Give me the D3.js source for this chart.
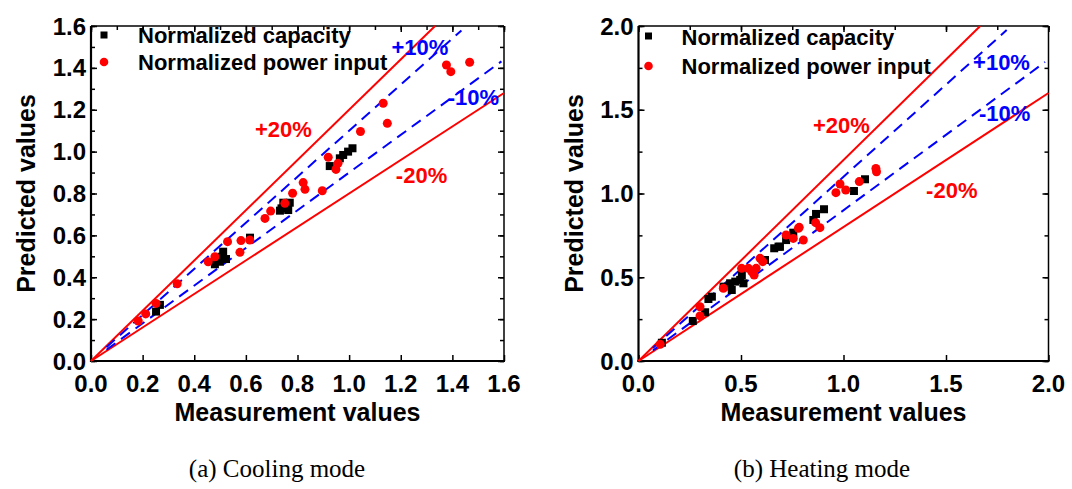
<!DOCTYPE html>
<html>
<head>
<meta charset="utf-8">
<script src="https://cdn.jsdelivr.net/npm/d3@7/dist/d3.min.js"></script>
<style>
  body { margin: 0; background: #fff; }
  svg { display: block; }
  text { font-family: "Liberation Sans", Arial, sans-serif; }
</style>
</head>
<body>
<svg id="chart"></svg>
<script>
var width = 1072,
    height = 489;

// Cooling mode data: [measured, predicted]
var coolingCapacity = [
  [0.252, 0.236], [0.267, 0.268], [0.480, 0.462], [0.499, 0.474], [0.506, 0.498],
  [0.512, 0.522], [0.523, 0.487], [0.616, 0.589], [0.732, 0.718], [0.738, 0.729],
  [0.745, 0.756], [0.764, 0.721], [0.770, 0.756], [0.925, 0.931], [0.964, 0.968],
  [0.977, 0.984], [0.996, 1.000], [1.013, 1.016]
];
var coolingPower = [
  [0.183, 0.191], [0.212, 0.225], [0.252, 0.275], [0.334, 0.369], [0.454, 0.474],
  [0.480, 0.498], [0.529, 0.570], [0.581, 0.575], [0.577, 0.519], [0.615, 0.578],
  [0.674, 0.681], [0.696, 0.716], [0.751, 0.753], [0.781, 0.801], [0.822, 0.852],
  [0.829, 0.820], [0.896, 0.813], [0.919, 0.973], [0.957, 0.944], [0.949, 0.915],
  [1.044, 1.096], [1.132, 1.231], [1.148, 1.135], [1.377, 1.414], [1.394, 1.382],
  [1.467, 1.427]
];

// Heating mode data: [measured, predicted]
var heatingCapacity = [
  [0.114, 0.109], [0.265, 0.239], [0.325, 0.291], [0.341, 0.370], [0.358, 0.384],
  [0.415, 0.444], [0.455, 0.424], [0.447, 0.464], [0.472, 0.474], [0.496, 0.484],
  [0.504, 0.513], [0.512, 0.464], [0.617, 0.603], [0.662, 0.673], [0.683, 0.683],
  [0.690, 0.682], [0.720, 0.722], [0.755, 0.766], [0.853, 0.842], [0.866, 0.878],
  [0.905, 0.906], [1.051, 1.015], [1.105, 1.085]
];
var heatingPower = [
  [0.106, 0.100], [0.300, 0.324], [0.300, 0.269], [0.414, 0.434], [0.503, 0.553],
  [0.536, 0.553], [0.553, 0.533], [0.564, 0.513], [0.574, 0.553], [0.593, 0.613],
  [0.606, 0.593], [0.720, 0.752], [0.755, 0.732], [0.780, 0.792], [0.784, 0.798],
  [0.804, 0.722], [0.864, 0.826], [0.885, 0.796], [0.963, 1.005], [0.983, 1.057],
  [1.011, 1.021], [1.077, 1.071], [1.158, 1.150], [1.161, 1.130]
];

var coolingTicks = [0.0, 0.2, 0.4, 0.6, 0.8, 1.0, 1.2, 1.4, 1.6];
var heatingTicks = [0.0, 0.5, 1.0, 1.5, 2.0];

var legendLabels = ['Normalized capacity', 'Normalized power input'];
var axisTitles = ['Measurement values', 'Predicted values'];

// error bands: factor, label, kind, x range drawn
var coolingBands = [
  { k: 1.2, label: '+20%', dash: false, x0: 0, x1: 1.333, lx: 0.635, ly: 1.069 },
  { k: 0.8, label: '-20%', dash: false, x0: 0, x1: 1.6, lx: 1.181, ly: 0.850 },
  { k: 1.1, label: '+10%', dash: true, x0: 0.06, x1: 1.435, lx: 1.164, ly: 1.461 },
  { k: 0.9, label: '-10%', dash: true, x0: 0.06, x1: 1.59, lx: 1.382, ly: 1.222 }
];
var heatingBands = [
  { k: 1.2, label: '+20%', dash: false, x0: 0, x1: 1.667, lx: 0.851, ly: 1.361 },
  { k: 0.8, label: '-20%', dash: false, x0: 0, x1: 2.0, lx: 1.403, ly: 0.973 },
  { k: 1.1, label: '+10%', dash: true, x0: 0.07, x1: 1.796, lx: 1.632, ly: 1.737 },
  { k: 0.9, label: '-10%', dash: true, x0: 0.07, x1: 1.983, lx: 1.661, ly: 1.433 }
];

var svg = d3.select('#chart')
    .attr('width', width)
    .attr('height', height);

drawPanel({
  left: 91, right: 504, top: 26, bottom: 361,
  max: 1.6, ticks: coolingTicks, minorStep: 0.1, fmt: d3.format('.1f'),
  capacity: coolingCapacity, power: coolingPower, bands: coolingBands,
  legendX: 13, legendTextX: 47, legendY: [35, 62], legendBase: [43, 70],
  yTitleX: 35, caption: '(a) Cooling mode', captionX: 277
});

drawPanel({
  left: 638.5, right: 1048.5, top: 26, bottom: 361,
  max: 2.0, ticks: heatingTicks, minorStep: 0.25, fmt: d3.format('.1f'),
  capacity: heatingCapacity, power: heatingPower, bands: heatingBands,
  legendX: 10, legendTextX: 43, legendY: [36, 66], legendBase: [45, 74],
  yTitleX: 583, caption: '(b) Heating mode', captionX: 822
});

function drawPanel(p) {
  var x = d3.scaleLinear().domain([0, p.max]).range([p.left, p.right]);
  var y = d3.scaleLinear().domain([0, p.max]).range([p.bottom, p.top]);

  var g = svg.append('g');

  var minor = d3.range(0, p.max + 1e-9, p.minorStep);

  // inward ticks on all four sides
  var bottomAxis = d3.axisBottom(x).tickValues(p.ticks).tickSize(-6).tickFormat('');
  var topAxis = d3.axisTop(x).tickValues(minor).tickSize(-4).tickFormat('');
  var topMajor = d3.axisTop(x).tickValues(p.ticks).tickSize(-6).tickFormat('');
  var leftMinor = d3.axisLeft(y).tickValues(minor).tickSize(-4).tickFormat('');
  var leftMajor = d3.axisLeft(y).tickValues(p.ticks).tickSize(-6).tickFormat('');
  var rightMinor = d3.axisRight(y).tickValues(minor).tickSize(-4).tickFormat('');
  var rightMajor = d3.axisRight(y).tickValues(p.ticks).tickSize(-6).tickFormat('');

  function put(axis, tx, ty) {
    var a = g.append('g')
        .attr('transform', 'translate(' + tx + ',' + ty + ')')
        .call(axis);
    a.select('.domain').remove();
    a.selectAll('line').attr('stroke', '#000').attr('stroke-width', 1.5);
    return a;
  }
  put(bottomAxis, 0, p.bottom);
  put(topAxis, 0, p.top);
  put(topMajor, 0, p.top);
  put(leftMinor, p.left, 0);
  put(leftMajor, p.left, 0);
  put(rightMinor, p.right, 0);
  put(rightMajor, p.right, 0);

  // frame
  g.append('line').attr('x1', p.left).attr('x2', p.right).attr('y1', p.top).attr('y2', p.top)
      .attr('stroke', '#000').attr('stroke-width', 1.5);
  g.append('line').attr('x1', p.right).attr('x2', p.right).attr('y1', p.top).attr('y2', p.bottom)
      .attr('stroke', '#000').attr('stroke-width', 1.5);
  g.append('line').attr('x1', p.left - 1).attr('x2', p.right + 1).attr('y1', p.bottom).attr('y2', p.bottom)
      .attr('stroke', '#000').attr('stroke-width', 2.2);
  g.append('line').attr('x1', p.left).attr('x2', p.left).attr('y1', p.top).attr('y2', p.bottom + 1)
      .attr('stroke', '#000').attr('stroke-width', 2.2);

  // tick labels
  g.selectAll('.xlab').data(p.ticks).enter().append('text')
      .attr('x', function(d) { return x(d); })
      .attr('y', p.bottom + 31)
      .attr('text-anchor', 'middle')
      .style('font-size', '24px').style('font-weight', 'bold')
      .text(p.fmt);
  g.selectAll('.ylab').data(p.ticks).enter().append('text')
      .attr('x', p.left - 5)
      .attr('y', function(d) { return y(d) + 8.5; })
      .attr('text-anchor', 'end')
      .style('font-size', '24px').style('font-weight', 'bold')
      .text(p.fmt);

  // axis titles
  g.append('text')
      .attr('x', (p.left + p.right) / 2)
      .attr('y', 421)
      .attr('text-anchor', 'middle')
      .style('font-size', '25px').style('font-weight', 'bold')
      .text(axisTitles[0]);
  g.append('text')
      .attr('transform', 'translate(' + p.yTitleX + ',' + (p.top + p.bottom) / 2 + ')rotate(-90)')
      .attr('text-anchor', 'middle')
      .style('font-size', '25px').style('font-weight', 'bold')
      .text(axisTitles[1]);

  // reference lines
  var line = d3.line()
      .x(function(d) { return x(d[0]); })
      .y(function(d) { return y(d[1]); });

  g.selectAll('.band').data(p.bands).enter().append('path')
      .attr('d', function(b) { return line([[b.x0, b.x0 * b.k], [b.x1, b.x1 * b.k]]); })
      .attr('fill', 'none')
      .attr('stroke', function(b) { return b.dash ? '#0000ff' : '#ff0000'; })
      .attr('stroke-width', 2)
      .attr('stroke-dasharray', function(b) { return b.dash ? '11,7' : null; });

  g.selectAll('.bandlab').data(p.bands).enter().append('text')
      .attr('x', function(b) { return x(b.lx); })
      .attr('y', function(b) { return y(b.ly); })
      .attr('fill', function(b) { return b.dash ? '#0000ff' : '#ff0000'; })
      .style('font-size', '22px').style('font-weight', 'bold')
      .text(function(b) { return b.label; });

  // markers
  g.selectAll('.cap').data(p.capacity).enter().append('rect')
      .attr('x', function(d) { return x(d[0]) - 4; })
      .attr('y', function(d) { return y(d[1]) - 4; })
      .attr('width', 8)
      .attr('height', 8)
      .attr('fill', '#000');

  g.selectAll('.pow').data(p.power).enter().append('circle')
      .attr('cx', function(d) { return x(d[0]); })
      .attr('cy', function(d) { return y(d[1]); })
      .attr('r', 4.5)
      .attr('fill', '#ff0000');

  // legend
  g.append('rect')
      .attr('x', p.left + p.legendX - 3.5).attr('y', p.legendY[0] - 3.5)
      .attr('width', 7).attr('height', 7).attr('fill', '#000');
  g.append('circle')
      .attr('cx', p.left + p.legendX).attr('cy', p.legendY[1])
      .attr('r', 4.3).attr('fill', '#ff0000');
  g.selectAll('.leg').data(legendLabels).enter().append('text')
      .attr('x', p.left + p.legendTextX)
      .attr('y', function(d, i) { return p.legendBase[i]; })
      .style('font-size', '22px').style('font-weight', 'bold')
      .text(function(d) { return d; });

  // caption
  g.append('text')
      .attr('x', p.captionX)
      .attr('y', 477)
      .attr('text-anchor', 'middle')
      .style('font-family', '"Liberation Serif", "Times New Roman", serif')
      .style('font-size', '25px')
      .text(p.caption);
}
</script>
</body>
</html>
